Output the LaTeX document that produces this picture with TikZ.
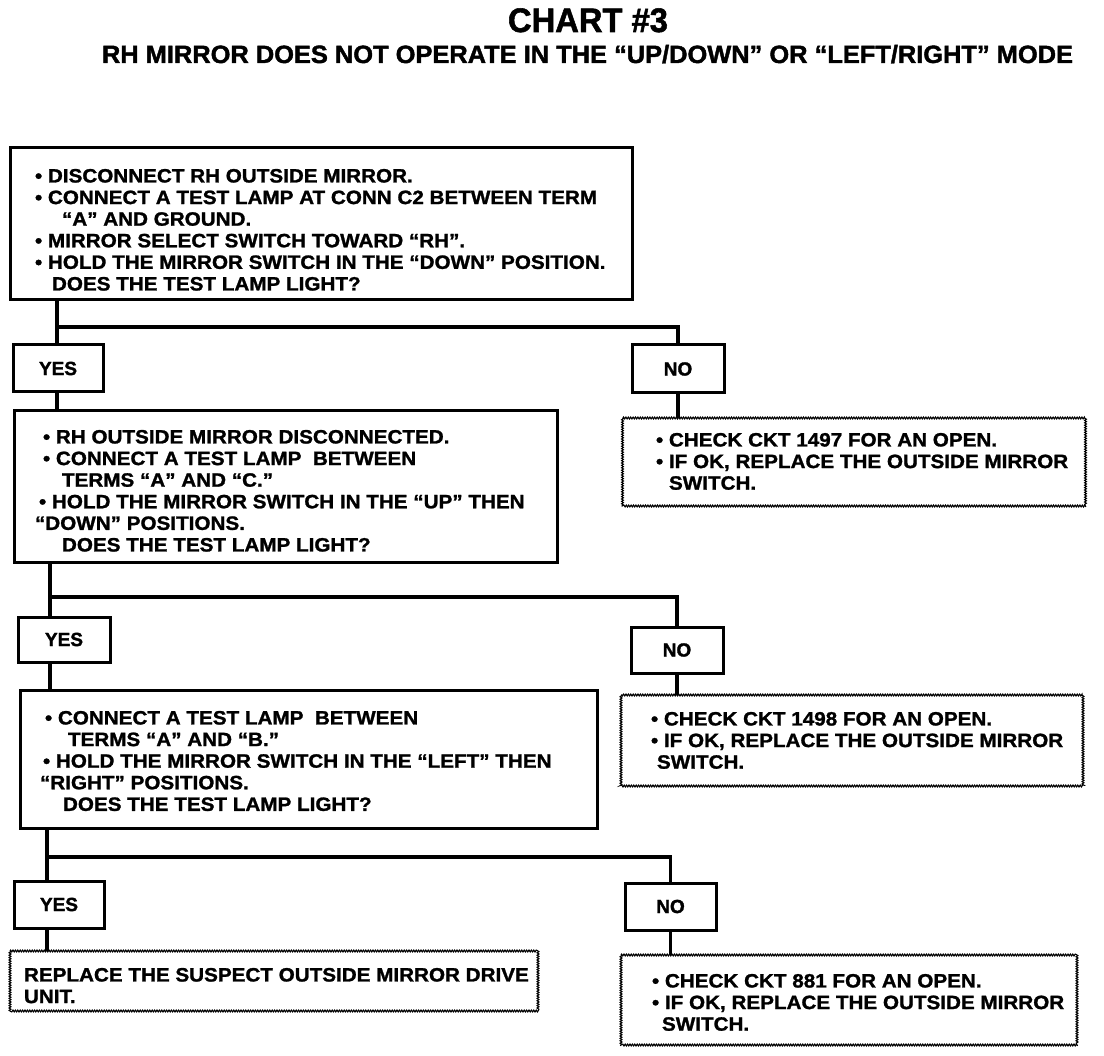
\documentclass[tikz,border=0pt]{standalone}
\usepackage{fontspec}
\usepackage{graphicx}
\setmainfont{Liberation Sans}[FakeStretch=1.07, BoldFeatures={FakeBold=1.3}]
\newfontfamily\condfont{Liberation Sans}[BoldFeatures={FakeBold=1.6}]
\usetikzlibrary{decorations.pathmorphing}
\begin{document}
\begin{tikzpicture}[x=1pt,y=-1pt,
  solidbox/.style={draw, line width=3pt, inner sep=0pt, outer sep=0pt},
  ansbox/.style={draw, line width=3pt, inner sep=0pt, outer sep=0pt, font=\condfont\bfseries\fontsize{19}{19}\selectfont},
  ghost/.style={draw=none, inner sep=0pt, outer sep=0pt},
  wavy/.style={line width=1.1pt, decorate, decoration={zigzag, amplitude=0.9pt, segment length=2.4pt}},
  conn/.style={line width=3.6pt},
  txt/.style={anchor=north west, inner sep=0pt, outer sep=0pt, align=left, font=\bfseries\fontsize{19.3}{21.6}\selectfont}
]
\useasboundingbox (0,0) rectangle (1104,1056);
% titles
\node[anchor=base, inner sep=0pt] (title) at (588,32) {\resizebox{160pt}{\height}{\condfont\bfseries\fontsize{34}{34}\selectfont CHART \#3}};
\node[anchor=base, inner sep=0pt] (subtitle) at (587.5,63) {\resizebox{971pt}{\height}{\condfont\bfseries\fontsize{25}{25}\selectfont RH MIRROR DOES NOT OPERATE IN THE “UP/DOWN” OR “LEFT/RIGHT” MODE}};

% boxes
\node[solidbox, minimum width=622pt, minimum height=152pt] (box1) at (321,224) {};
\node[ansbox, minimum width=90pt, minimum height=47pt] (yes1) at (58,368.5) {YES};
\node[ansbox, minimum width=92pt, minimum height=48pt] (no1) at (678,369) {NO};
\node[solidbox, minimum width=543pt, minimum height=152pt] (box2) at (285.5,487) {};
\node[ghost, minimum width=463pt, minimum height=88pt] (dot1) at (854,462) {};
\node[ansbox, minimum width=92pt, minimum height=45pt] (yes2) at (64,639.5) {YES};
\node[ansbox, minimum width=92pt, minimum height=46pt] (no2) at (677,650) {NO};
\node[solidbox, minimum width=577pt, minimum height=138pt] (box3) at (308.5,759) {};
\node[ghost, minimum width=462pt, minimum height=91pt] (dot2) at (852,740.5) {};
\node[ansbox, minimum width=90pt, minimum height=47pt] (yes3) at (59,904.5) {YES};
\node[ansbox, minimum width=91pt, minimum height=47pt] (no3) at (670.5,906.5) {NO};
\node[ghost, minimum width=528pt, minimum height=60pt] (dot3) at (274,981) {};
\node[ghost, minimum width=456pt, minimum height=90pt] (dot4) at (849,1000) {};

\foreach \d in {dot1,dot2,dot3,dot4}
  \draw[wavy] (\d.north west) rectangle (\d.south east);

% texts
\node[txt] (t1) at (35,169) {• DISCONNECT RH OUTSIDE MIRROR.\\
• CONNECT A TEST LAMP AT CONN C2 BETWEEN TERM\\
\hspace*{27pt}“A” AND GROUND.\\
• MIRROR SELECT SWITCH TOWARD “RH”.\\
• HOLD THE MIRROR SWITCH IN THE “DOWN” POSITION.\\
\hspace*{17pt}DOES THE TEST LAMP LIGHT?};

\node[txt] (t2) at (20,430) {\hspace*{23pt}• RH OUTSIDE MIRROR DISCONNECTED.\\
\hspace*{23pt}• CONNECT A TEST LAMP \ BETWEEN\\
\hspace*{42pt}TERMS “A” AND “C.”\\
\hspace*{19pt}• HOLD THE MIRROR SWITCH IN THE “UP” THEN\\
\hspace*{15pt}“DOWN” POSITIONS.\\
\hspace*{42pt}DOES THE TEST LAMP LIGHT?};

\node[txt] (t3) at (656,433) {• CHECK CKT 1497 FOR AN OPEN.\\
• IF OK, REPLACE THE OUTSIDE MIRROR\\
\hspace*{13pt}SWITCH.};

\node[txt] (t4) at (40,711) {\hspace*{5pt}• CONNECT A TEST LAMP \ BETWEEN\\
\hspace*{28pt}TERMS “A” AND “B.”\\
\hspace*{3pt}• HOLD THE MIRROR SWITCH IN THE “LEFT” THEN\\
“RIGHT” POSITIONS.\\
\hspace*{23pt}DOES THE TEST LAMP LIGHT?};

\node[txt] (t5) at (651,712) {• CHECK CKT 1498 FOR AN OPEN.\\
• IF OK, REPLACE THE OUTSIDE MIRROR\\
\hspace*{6pt}SWITCH.};

\node[txt] (t6) at (24,968) {REPLACE THE SUSPECT OUTSIDE MIRROR DRIVE\\
UNIT.};

\node[txt] (t7) at (652,974) {• CHECK CKT 881 FOR AN OPEN.\\
• IF OK, REPLACE THE OUTSIDE MIRROR\\
\hspace*{10pt}SWITCH.};

% connectors
\coordinate (j1) at (57,327);
\coordinate (j2) at (50,597);
\coordinate (j3) at (47,857);

\draw[conn] (box1.south -| j1) -- (yes1.north -| j1);
\draw[conn] (j1) -| (no1.north);
\draw[conn] (yes1.south -| j1) -- (box2.north -| j1);
\draw[conn] (no1.south) -- (dot1.north -| no1.south);

\draw[conn] (box2.south -| j2) -- (yes2.north -| j2);
\draw[conn] (j2) -| (no2.north);
\draw[conn] (yes2.south -| j2) -- (box3.north -| j2);
\draw[conn] (no2.south) -- (dot2.north -| no2.south);

\draw[conn] (box3.south -| j3) -- (yes3.north -| j3);
\draw[conn] (j3) -| (no3.north);
\draw[conn] (yes3.south -| j3) -- (dot3.north -| j3);
\draw[conn] (no3.south) -- (dot4.north -| no3.south);
\end{tikzpicture}
\end{document}
